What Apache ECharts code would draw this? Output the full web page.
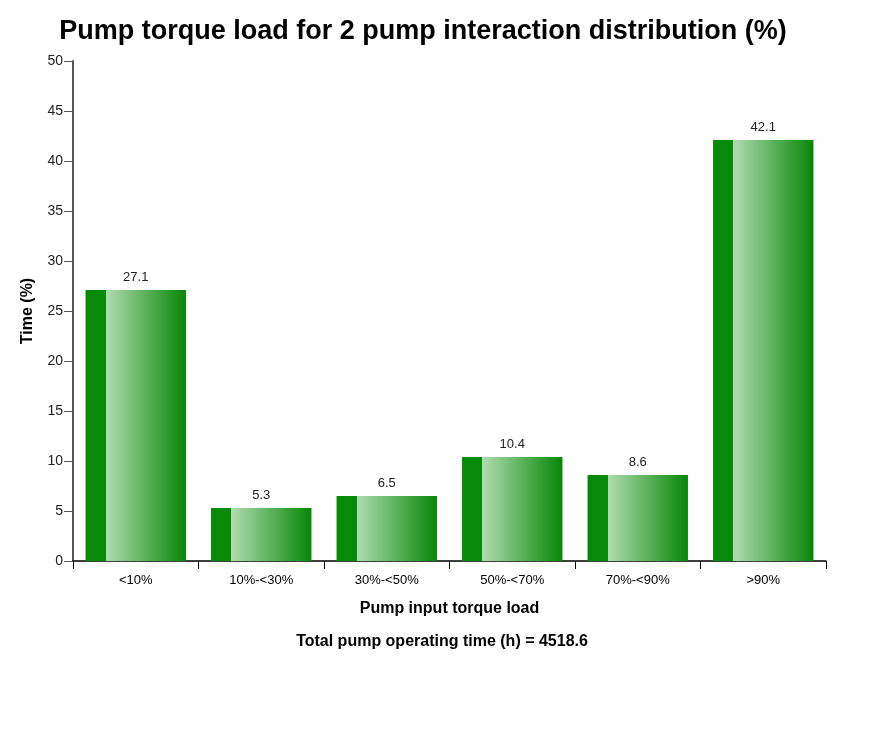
<!DOCTYPE html>
<html>
<head>
<meta charset="utf-8">
<script src="https://cdn.jsdelivr.net/npm/echarts@6/dist/echarts.min.js"></script>
<style>
  html, body { margin: 0; padding: 0; background: #fff; }
  #chart { width: 885px; height: 754px; }
</style>
</head>
<body>
<div id="chart"></div>
<script>
// chart data
const categories = ['<10%', '10%-<30%', '30%-<50%', '50%-<70%', '70%-<90%', '>90%'];
const timeShare = [27.1, 5.3, 6.5, 10.4, 8.6, 42.1];
const totalHours = 4518.6;

const chart = echarts.init(document.getElementById('chart'));
const font = 'Liberation Sans, Arial, sans-serif';

const barColor = new echarts.graphic.LinearGradient(0, 0, 1, 0, [
  { offset: 0, color: '#078a07' },
  { offset: 0.2, color: '#078a07' },
  { offset: 0.2, color: '#b0dcb0' },
  { offset: 1, color: '#078607' }
]);

chart.setOption({
  textStyle: { fontFamily: font },
  title: [
    {
      text: 'Pump torque load for 2 pump interaction distribution (%)',
      left: 418, top: 13, textAlign: 'center',
      textStyle: { fontSize: 27, fontWeight: 'bold', color: '#000', fontFamily: font }
    },
    {
      text: 'Total pump operating time (h) = ' + totalHours,
      left: 437, top: 629, textAlign: 'center',
      textStyle: { fontSize: 16, fontWeight: 'bold', color: '#000', fontFamily: font }
    }
  ],
  grid: { left: 73, right: 59, top: 61, bottom: 193 },
  xAxis: {
    type: 'category',
    data: categories,
    name: 'Pump input torque load',
    nameLocation: 'middle',
    nameGap: 40,
    nameTextStyle: { fontSize: 16, fontWeight: 'bold', color: '#000' },
    axisLine: { lineStyle: { color: '#000', width: 1.5 } },
    axisTick: { show: true, length: 8, lineStyle: { color: '#000' } },
    axisLabel: { color: '#000', fontSize: 13, margin: 13 }
  },
  yAxis: {
    type: 'value',
    min: 0, max: 50, interval: 5,
    name: 'Time (%)',
    nameLocation: 'middle',
    nameGap: 37,
    nameTextStyle: { fontSize: 16, fontWeight: 'bold', color: '#000' },
    axisLine: { show: true, lineStyle: { color: '#555', width: 2 } },
    axisTick: { show: true, length: 9, lineStyle: { color: '#555' } },
    axisLabel: { color: '#222', fontSize: 14, margin: 10 },
    splitLine: { show: false }
  },
  series: [{
    type: 'bar',
    data: timeShare,
    barWidth: '80%',
    itemStyle: { color: barColor },
    label: {
      show: true, position: 'top', distance: 6,
      color: '#222', fontSize: 13
    }
  }]
});
</script>
</body>
</html>
